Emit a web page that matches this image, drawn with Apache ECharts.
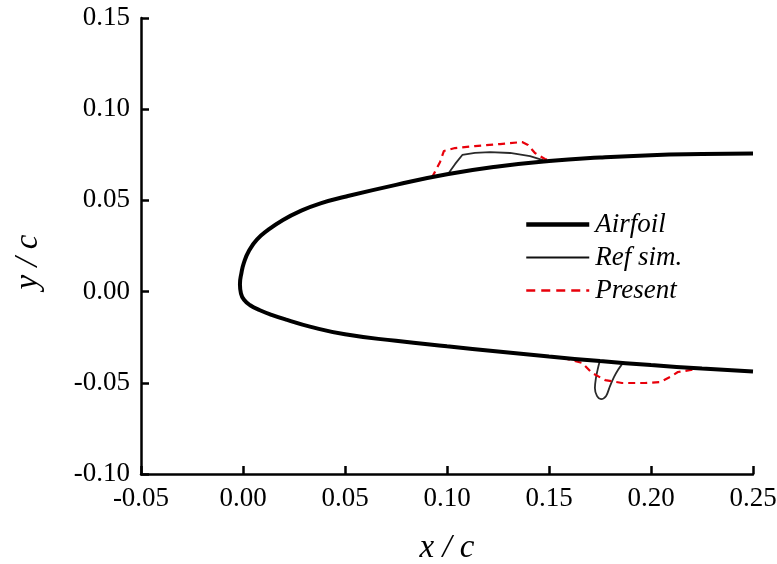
<!DOCTYPE html>
<html>
<head>
<meta charset="utf-8">
<script src="https://cdn.jsdelivr.net/npm/echarts@6/dist/echarts.min.js"></script>
<style>html,body{margin:0;padding:0;background:#fff;}#c{width:777px;height:564px;}</style>
</head>
<body>
<div id="c"></div>
<script>
// Airfoil contour (upper TE -> leading edge -> lower TE)
var airfoilX = [0.25, 0.225, 0.20, 0.175, 0.15, 0.125, 0.10, 0.075, 0.05, 0.0380, 0.0280, 0.0196, 0.0123, 0.0068, 0.0030, 0.0005, -0.0008, -0.0015, -0.0010, 0.0005, 0.0035, 0.0083, 0.0140, 0.0216, 0.0328, 0.05, 0.075, 0.10, 0.125, 0.15, 0.175, 0.20, 0.225, 0.25];
var airfoilY = [0.0757, 0.0754, 0.0748, 0.0735, 0.0716, 0.0686, 0.0643, 0.0585, 0.0520, 0.0484, 0.0441, 0.0393, 0.0338, 0.0285, 0.0225, 0.0160, 0.0100, 0.0040, -0.0010, -0.0045, -0.0075, -0.0102, -0.0127, -0.0155, -0.0192, -0.0234, -0.0270, -0.0300, -0.0328, -0.0356, -0.0381, -0.0403, -0.0422, -0.0438];

// Reference simulation ice shapes
var refUpperX = [0.1005, 0.1040, 0.1075, 0.1137, 0.1211, 0.1309, 0.1407, 0.1470, 0.1500];
var refUpperY = [0.0645, 0.0700, 0.0749, 0.0760, 0.0765, 0.0760, 0.0743, 0.0721, 0.0712];
var refLowerX = [0.1748, 0.1740, 0.1730, 0.1725, 0.1735, 0.1755, 0.1780, 0.1799, 0.1819, 0.1838, 0.1860];
var refLowerY = [-0.0385, -0.0420, -0.0474, -0.0529, -0.0572, -0.0589, -0.0572, -0.0518, -0.0468, -0.0430, -0.0395];

// Present ice shapes
var presentUpperX = [0.0926, 0.0966, 0.0985, 0.1039, 0.1137, 0.1260, 0.1368, 0.1397, 0.1431, 0.1480, 0.1515];
var presentUpperY = [0.0625, 0.0711, 0.0771, 0.0787, 0.0798, 0.0809, 0.0820, 0.0804, 0.0760, 0.0727, 0.0714];
var presentLowerX = [0.1569, 0.1662, 0.1711, 0.1775, 0.1858, 0.1970, 0.2044, 0.2093, 0.2132, 0.2225, 0.2289];
var presentLowerY = [-0.0364, -0.0391, -0.0446, -0.0485, -0.0501, -0.0501, -0.0496, -0.0468, -0.0441, -0.0424, -0.0421];

var seriesNames = ['Airfoil', 'Ref sim.', 'Present'];
var xTicks = {min: -0.05, max: 0.25, interval: 0.05};
var yTicks = {min: -0.10, max: 0.15, interval: 0.05};

function pairs(xs, ys) { return xs.map(function (x, i) { return [x, ys[i]]; }); }

var FONT = "'Liberation Serif', 'Times New Roman', serif";
var RED = '#e8000b';
var chart = echarts.init(document.getElementById('c'), null, {renderer: 'canvas'});
var axisCommon = {
  type: 'value',
  axisLine: {show: true, onZero: false, lineStyle: {color: '#000', width: 2.5}},
  axisTick: {show: true, inside: true, length: 8, lineStyle: {color: '#000', width: 2.5}},
  splitLine: {show: false},
  axisLabel: {color: '#000', fontFamily: FONT, fontSize: 27, margin: 11,
    formatter: function (v) { return v.toFixed(2); }}
};
chart.setOption({
  animation: false,
  backgroundColor: '#fff',
  grid: {left: 141, right: 24, top: 18, bottom: 90, containLabel: false, outerBoundsMode: 'none'},
  xAxis: Object.assign({}, axisCommon, xTicks, {
    name: 'x / c', nameLocation: 'middle', nameGap: 58,
    nameTextStyle: {color: '#000', fontFamily: FONT, fontStyle: 'italic', fontSize: 33}
  }),
  yAxis: Object.assign({}, axisCommon, yTicks, {
    name: 'y / c', nameLocation: 'middle', nameGap: 96, nameRotate: 90,
    nameTextStyle: {color: '#000', fontFamily: FONT, fontStyle: 'italic', fontSize: 33, padding: [0, 32, 0, 0]}
  }),
  legend: {
    orient: 'vertical', left: 519, top: 206, itemWidth: 63, itemHeight: 14, itemGap: 6,
    itemStyle: {opacity: 0},
    data: [
      {name: seriesNames[0], lineStyle: {width: 4.5, color: '#000'}},
      {name: seriesNames[1], lineStyle: {width: 1.8, color: '#111'}},
      {name: seriesNames[2], lineStyle: {width: 2.4, color: RED, type: [9, 6]}}
    ],
    textStyle: {color: '#000', fontFamily: FONT, fontStyle: 'italic', fontSize: 27, padding: [0, 0, 0, 1]}
  },
  series: [
    {name: seriesNames[0], type: 'line', data: pairs(airfoilX, airfoilY), smooth: 0.5, symbol: 'none',
      lineStyle: {color: '#000', width: 4}, itemStyle: {color: '#000'}, z: 3},
    {name: seriesNames[1], type: 'line', data: pairs(refUpperX, refUpperY), symbol: 'none',
      lineStyle: {color: '#2a2a2a', width: 1.8}, itemStyle: {color: '#2a2a2a'}, z: 2},
    {name: seriesNames[1], type: 'line', data: pairs(refLowerX, refLowerY), symbol: 'none', smooth: 0.3,
      lineStyle: {color: '#2a2a2a', width: 1.8}, itemStyle: {color: '#2a2a2a'}, z: 2},
    {name: seriesNames[2], type: 'line', data: pairs(presentUpperX, presentUpperY), symbol: 'none',
      lineStyle: {color: RED, width: 2.2, type: [7, 5]}, itemStyle: {color: RED}, z: 2},
    {name: seriesNames[2], type: 'line', data: pairs(presentLowerX, presentLowerY), symbol: 'none',
      lineStyle: {color: RED, width: 2.2, type: [7, 5]}, itemStyle: {color: RED}, z: 2}
  ]
});
</script>
</body>
</html>
